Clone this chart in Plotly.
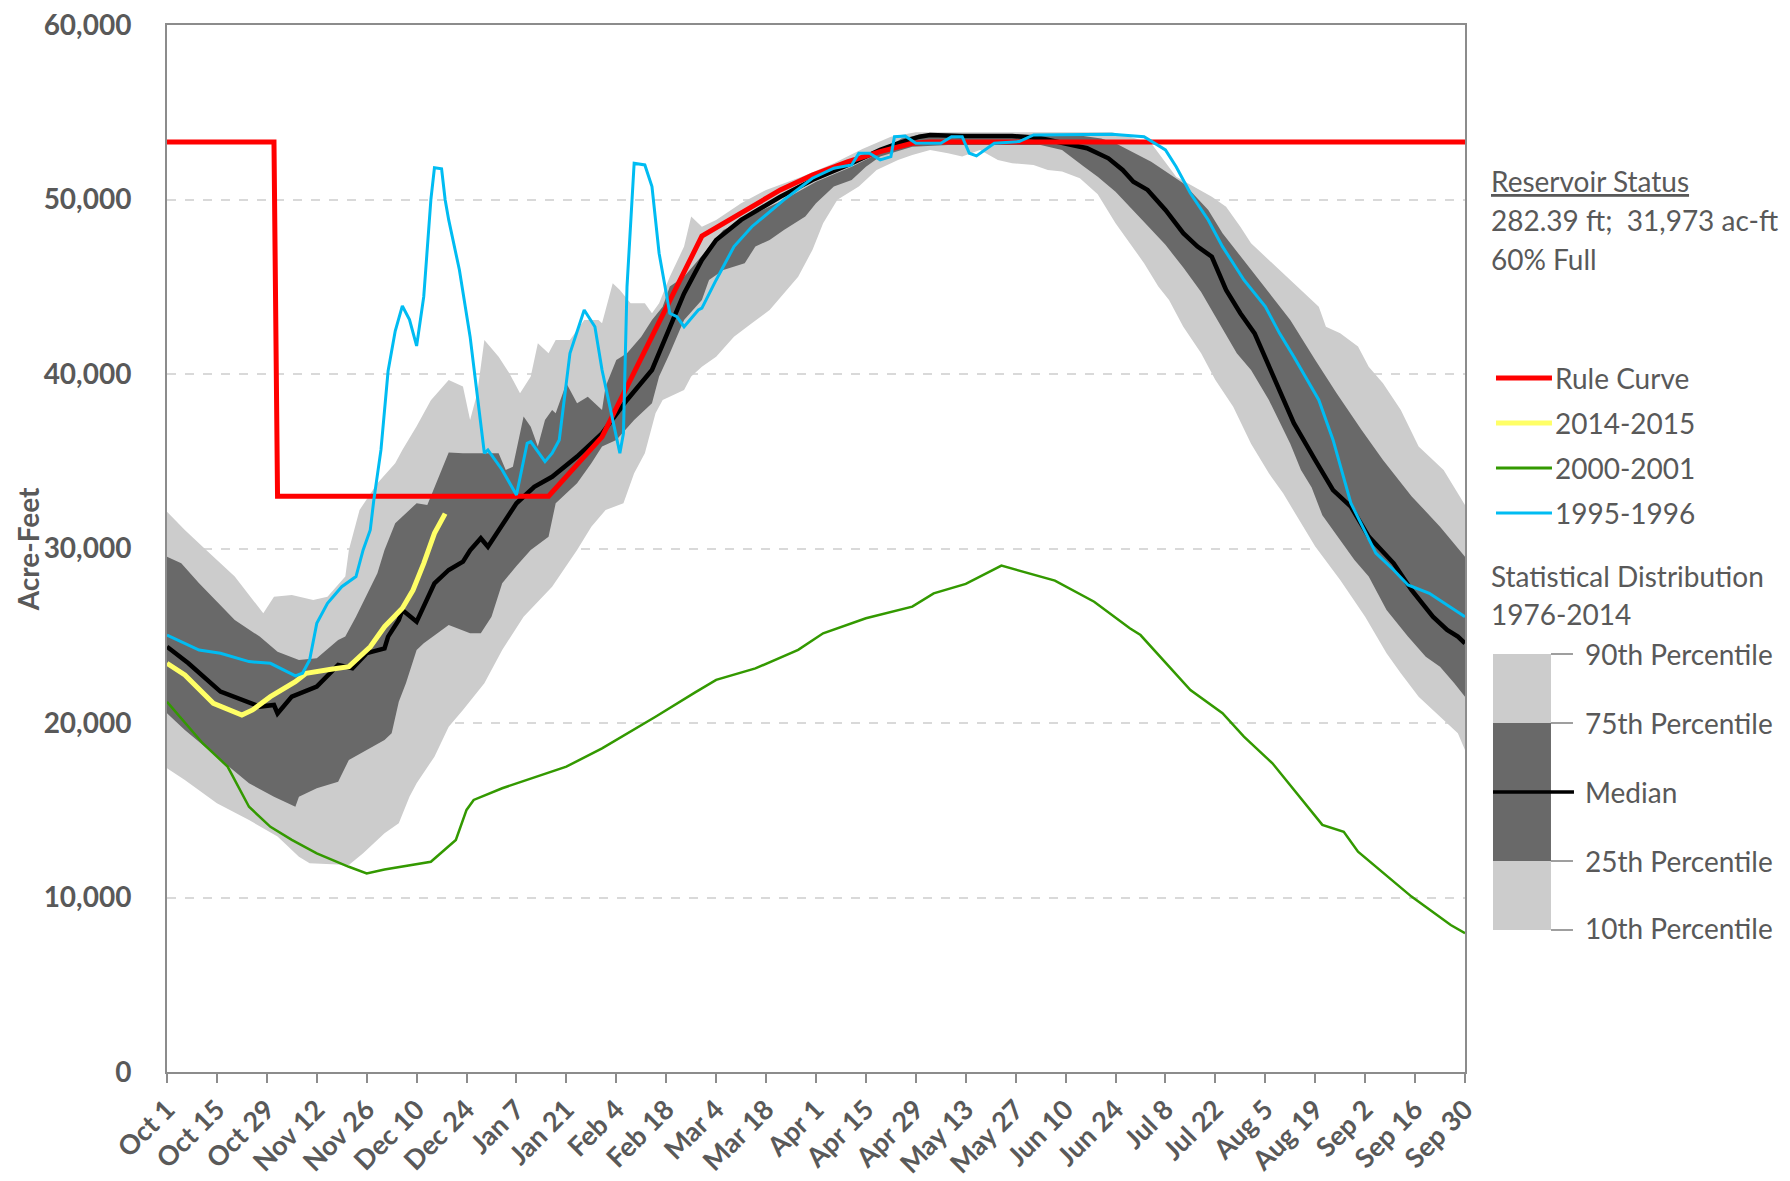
import plotly.graph_objects as go

# ---------------- data (day index from Oct 1, acre-feet) ----------------
x_tick_days = list(range(0, 365, 14))
x_tick_labels = ["Oct 1", "Oct 15", "Oct 29", "Nov 12", "Nov 26", "Dec 10", "Dec 24",
                 "Jan 7", "Jan 21", "Feb 4", "Feb 18", "Mar 4", "Mar 18", "Apr 1",
                 "Apr 15", "Apr 29", "May 13", "May 27", "Jun 10", "Jun 24", "Jul 8",
                 "Jul 22", "Aug 5", "Aug 19", "Sep 2", "Sep 16", "Sep 30"]
y_tick_vals = [0, 10000, 20000, 30000, 40000, 50000, 60000]
y_tick_labels = ["0", "10,000", "20,000", "30,000", "40,000", "50,000", "60,000"]

p90_day = [0,5,10,19,27,30,35,41,45,50,51,54,59,64,66,70,74,79,83,85,87,89,93,96,99,102,104,107,109,113,
           117,121,122,125,127,130,134,136,138,141,145,147,150,154,161,168,178,187,195,203,210,265,270,276,283,
           288,293,297,301,304,308,315,323,325,329,334,337,341,346,351,358,364]
p90_val = [32110,31060,30100,28390,26290,27240,27340,27050,27240,28390,29920,32210,33740,34880,35650,37000,38500,
           39660,39280,37370,38900,41950,40990,40040,38900,39850,41760,41190,41950,41950,43100,43100,42910,45200,
           44820,44050,44050,43480,44050,45580,47300,49020,48440,48830,49790,50550,51310,52080,52900,53600,53850,
           53850,53600,53220,51310,50740,50160,49590,48440,47490,46720,45390,43860,42710,42330,41570,40420,39470,
           37940,35840,34500,32500]

p75_day = [0,4,9,19,26,31,37,42,48,50,53,59,61,64,70,73,77,79,83,89,93,95,97,100,102,104,106,108,109,112,
           115,118,122,123,126,129,133,136,139,141,145,149,152,156,162,165,173,182,192,200,206,212,255,262,266,
           276,285,292,296,304,309,315,322,328,335,341,349,357,364]
p75_val = [29530,29150,28010,25900,24950,24090,23610,23710,24760,24950,26090,28580,29920,31450,32590,32490,34500,
           35500,35460,35460,35460,34500,34690,37560,36980,35840,37370,37940,37750,39470,38320,38700,37940,39280,
           40800,41190,42140,43100,43860,45010,45580,46540,47300,48250,48830,49210,49980,51020,51880,52700,53500,
           53750,53700,53500,53220,52170,50930,49400,48070,45960,44630,43100,40800,38900,36790,35070,33000,31250,
           29530]

p25_day = [0,5,14,23,30,36,37,42,48,51,56,61,63,65,67,70,72,79,85,88,91,94,98,102,107,109,115,119,122,126,
           131,136,138,141,145,150,152,156,162,165,169,173,179,182,187,192,196,200,209,219,245,251,257,261,266,
           270,275,280,285,290,294,300,304,309,315,318,321,324,327,333,337,342,348,353,357,361,364]
p25_val = [20560,19600,18070,16550,15780,15200,15780,16260,16640,17880,18450,19030,19410,21220,22280,24190,24570,
           25620,25140,25140,26090,28010,29000,29920,30680,32590,33740,34880,35840,36220,37370,38320,39850,41190,
           43100,44240,45390,45960,46350,47300,47680,48250,49020,49790,50740,51120,51880,52460,53030,53130,53130,
           52840,51900,51310,50450,49600,48500,47400,46100,44700,43290,41190,40230,38510,36000,34500,33500,31900,
           31060,29340,28390,26480,24950,23800,23230,22280,21510]

p10_day = [0,5,14,23,31,37,40,51,55,61,65,68,70,75,79,83,89,94,100,108,115,119,123,128,131,134,137,139,145,147,
           150,154,159,164,169,173,177,181,184,188,194,199,205,209,214,219,223,228,233,237,243,247,251,256,261,
           266,270,274,278,281,285,290,294,299,304,309,313,317,322,329,336,342,346,351,357,362,364]
p10_val = [17400,16730,15400,14440,13490,12340,11960,11860,12530,13680,14250,15780,16550,18070,19790,20750,22280,
           24190,26090,27810,29920,31250,32210,32590,34310,35460,37750,38510,39090,39850,40420,40990,42140,42910,
           43670,44630,45580,47110,48640,49980,50740,51690,52270,52550,52840,52650,52460,52840,52270,52080,51980,
           51690,51600,51220,50300,48640,47490,46350,45010,44240,42710,41190,39660,38130,36000,34310,33160,31830,
           30110,28200,26090,24000,22850,21510,20360,19410,18450]

median_day = [0,6,15,26,30,31,35,42,48,52,56,61,62,65,66,70,75,79,83,85,88,90,98,103,108,115,122,129,136,140,
              145,150,154,161,168,172,181,191,200,205,211,214,223,237,245,251,258,264,268,271,275,280,285,289,293,
              297,301,305,309,312,316,322,327,332,337,344,349,355,359,362,364]
median_val = [24370,23420,21800,20940,21030,20550,21510,22080,23330,23140,24000,24280,24950,25900,26480,25810,
              28010,28770,29250,29900,30590,30100,32590,33540,34110,35270,36600,38510,40230,42140,44620,46530,
              47680,48830,49690,50160,51120,51980,52840,53220,53600,53700,53640,53640,53510,53220,52940,52360,
              51690,51020,50550,49400,48070,47300,46720,44820,43480,42330,40420,39090,37180,35070,33350,32400,
              30680,29150,27620,26090,25330,24950,24570]

rule_day = [0,30,31,107,122,150,172,181,191,200,209,214,364]
rule_val = [53300,53300,33000,33000,36400,47900,50550,51400,52170,52740,53220,53300,53300]

y2014_day = [0,5,13,21,24,29,36,39,46,51,57,61,66,69,72,75,78]
y2014_val = [23420,22750,21130,20460,20750,21510,22370,22850,23080,23230,24370,25520,26570,27620,29150,30870,32000]

y2000_day = [0,10,17,23,29,35,42,51,56,61,74,81,84,86,94,112,122,137,148,154,165,177,184,196,209,215,224,234,
             249,260,270,273,287,296,302,310,324,330,334,349,360,364]
y2000_val = [21220,18840,17500,15200,14050,13300,12530,11760,11380,11610,12050,13300,15020,15590,16260,17500,
             18550,20360,21740,22470,23130,24190,25140,26000,26670,27430,27970,29020,28160,26950,25430,25040,
             21890,20560,19220,17690,14160,13770,12630,10050,8420,7950]

y1995_day = [0,9,15,23,29,36,38,40,42,45,49,53,55,57,58,60,62,64,66,68,70,72,74,75,77,78,79,82,85,89,90,94,98,
             101,102,106,108,110,113,117,120,122,125,127,128,129,131,134,136,138,141,143,145,149,150,154,159,164,
             173,181,187,192,194,197,200,203,204,207,210,217,220,223,225,227,232,239,243,265,274,280,283,287,292,
             296,302,308,312,316,323,327,332,337,339,344,348,354,364]
y1995_val = [25040,24180,24000,23520,23420,22700,22850,23610,25710,26860,27810,28390,29920,31060,32780,35650,
             40170,42460,43900,43120,41610,44430,49990,51820,51760,49990,48830,45960,42140,35460,35650,34500,
             33070,36030,36120,34980,35460,36220,41190,43670,42710,40230,37370,35460,36600,45010,52080,51980,
             50740,46920,43480,43290,42710,43670,43770,45390,47300,48440,49980,51220,51790,51980,52650,52650,
             52270,52460,53600,53640,53220,53220,53600,53600,52650,52500,53220,53320,53700,53740,53600,52840,
             51880,50360,48830,47300,45390,43860,42330,40990,38510,36220,32600,30490,29730,28770,27910,27430,
             26090]

status_lines = ["<u>Reservoir Status</u>", "282.39 ft;&nbsp; 31,973 ac-ft", "60% Full"]
series_names = ["Rule Curve", "2014-2015", "2000-2001", "1995-1996"]
dist_title = ["Statistical Distribution", "1976-2014"]
pct_labels = ["90th Percentile", "75th Percentile", "Median", "25th Percentile", "10th Percentile"]

# ---------------- styles ----------------
LIGHT = "#cccccc"
DARK = "#696969"
RED = "#ff0000"
YELLOW = "#ffff66"
GREEN = "#339900"
BLUE = "#00bcf2"
TXT = "#595959"
AX = "#8c8c8c"
FONT = "Lato, 'Open Sans', sans-serif"

OFF = 8  # browser default body margin
W, H = 1790 - OFF, 1181 - OFF
L, R, T, B = 166.7 - OFF, 1465.0 - OFF, 25.0 - OFF, 1072.0 - OFF


def pxx(x):
    return (x - OFF - L) / (R - L)


def pyy(y):
    return (B - (y - OFF)) / (B - T)


fig = go.Figure()

# bands
fig.add_trace(go.Scatter(x=p90_day + p10_day[::-1], y=p90_val + p10_val[::-1], fill="toself",
                         fillcolor=LIGHT, line=dict(width=0), mode="lines", hoverinfo="skip",
                         showlegend=False))
fig.add_trace(go.Scatter(x=p75_day + p25_day[::-1], y=p75_val + p25_val[::-1], fill="toself",
                         fillcolor=DARK, line=dict(width=0), mode="lines", hoverinfo="skip",
                         showlegend=False))

fig.add_trace(go.Scatter(x=y2000_day, y=y2000_val, mode="lines", line=dict(color=GREEN, width=2.5),
                         showlegend=False))
fig.add_trace(go.Scatter(x=median_day, y=median_val, mode="lines", line=dict(color="black", width=4.5),
                         showlegend=False))
fig.add_trace(go.Scatter(x=rule_day, y=rule_val, mode="lines", line=dict(color=RED, width=5),
                         showlegend=False))
fig.add_trace(go.Scatter(x=y2014_day, y=y2014_val, mode="lines", line=dict(color=YELLOW, width=5),
                         showlegend=False))
fig.add_trace(go.Scatter(x=y1995_day, y=y1995_val, mode="lines", line=dict(color=BLUE, width=3),
                         showlegend=False))

shapes = []
annotations = []

# left border line of the image
shapes.append(dict(type="line", xref="paper", yref="paper", x0=pxx(3), x1=pxx(3), y0=pyy(OFF), y1=pyy(1181),
                   line=dict(color="#d9d9d9", width=2)))

FS = 28
# reservoir status text
for i, txt in enumerate(status_lines):
    annotations.append(dict(text=txt, xref="paper", yref="paper", x=pxx(1489), y=pyy(181 + 39 * i),
                            xanchor="left", yanchor="middle", showarrow=False,
                            font=dict(family=FONT, size=FS, color=TXT)))

# series legend
leg_colors = [RED, YELLOW, GREEN, BLUE]
leg_widths = [5, 5, 3, 3]
for i, name in enumerate(series_names):
    yc = 378 + 45 * i
    shapes.append(dict(type="line", xref="paper", yref="paper", x0=pxx(1496), x1=pxx(1552),
                       y0=pyy(yc), y1=pyy(yc), line=dict(color=leg_colors[i], width=leg_widths[i])))
    annotations.append(dict(text=name, xref="paper", yref="paper", x=pxx(1553), y=pyy(yc),
                            xanchor="left", yanchor="middle", showarrow=False,
                            font=dict(family=FONT, size=FS, color=TXT)))

# statistical distribution legend
for i, txt in enumerate(dist_title):
    annotations.append(dict(text=txt, xref="paper", yref="paper", x=pxx(1489), y=pyy(576 + 38 * i),
                            xanchor="left", yanchor="middle", showarrow=False,
                            font=dict(family=FONT, size=FS, color=TXT)))
box_y = [654, 723, 861, 930]
box_cols = [LIGHT, DARK, LIGHT]
for i in range(3):
    shapes.append(dict(type="rect", xref="paper", yref="paper", x0=pxx(1493), x1=pxx(1551),
                       y0=pyy(box_y[i]), y1=pyy(box_y[i + 1]), fillcolor=box_cols[i],
                       line=dict(width=0)))
for yv in box_y:
    shapes.append(dict(type="line", xref="paper", yref="paper", x0=pxx(1551), x1=pxx(1573),
                       y0=pyy(yv), y1=pyy(yv), line=dict(color="#7f7f7f", width=1.5)))
shapes.append(dict(type="line", xref="paper", yref="paper", x0=pxx(1493), x1=pxx(1574),
                   y0=pyy(792), y1=pyy(792), line=dict(color="black", width=3.5)))
label_y = [654, 723, 792, 861, 928]
for txt, yv in zip(pct_labels, label_y):
    annotations.append(dict(text=txt, xref="paper", yref="paper", x=pxx(1583), y=pyy(yv),
                            xanchor="left", yanchor="middle", showarrow=False,
                            font=dict(family=FONT, size=FS, color=TXT)))

# y axis title
annotations.append(dict(text="<b>Acre-Feet</b>", xref="paper", yref="paper", x=pxx(28), y=pyy(549),
                        xanchor="center", yanchor="middle", textangle=-90, showarrow=False,
                        font=dict(family=FONT, size=28, color=TXT)))

fig.update_layout(
    width=W, height=H,
    margin=dict(l=L, r=W - R, t=T, b=H - B, autoexpand=False),
    paper_bgcolor="white", plot_bgcolor="white",
    shapes=shapes, annotations=annotations,
    font=dict(family=FONT, color=TXT),
)
fig.update_xaxes(range=[0, 364], tickmode="array", tickvals=x_tick_days, ticktext=x_tick_labels,
                 tickangle=-45, ticks="outside", ticklen=9, tickwidth=2, tickcolor=AX,
                 showline=True, linecolor=AX, linewidth=2, mirror=True, showgrid=False, zeroline=False,
                 ticklabeloverflow="allow",
                 tickfont=dict(family=FONT, size=27, color=TXT, weight="bold"))
fig.update_yaxes(range=[0, 60000], tickmode="array", tickvals=y_tick_vals, ticktext=y_tick_labels,
                 ticks="", showline=True, linecolor=AX, linewidth=2, mirror=True,
                 showgrid=True, gridcolor="#d9d9d9", gridwidth=2, griddash="dash", zeroline=False,
                 ticklabelstandoff=28, ticklabeloverflow="allow",
                 tickfont=dict(family=FONT, size=28, color=TXT, weight="bold"))

fig.write_html("out.html")
